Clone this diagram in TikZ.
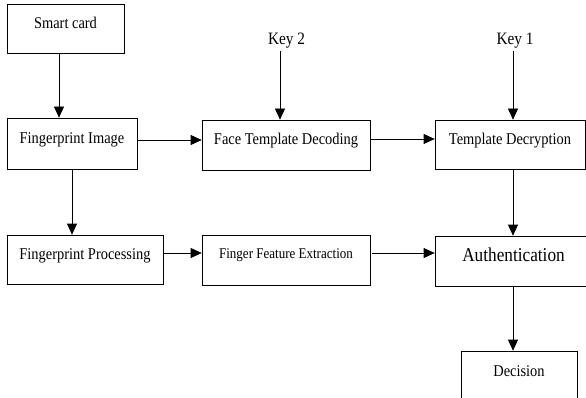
\documentclass[tikz,border=0pt]{standalone}
\usepackage{fontspec}
\setmainfont{Liberation Serif}[FakeStretch=0.88]
\usetikzlibrary{arrows.meta}
\tikzset{
  box/.style={draw=black, line width=0.7pt, rectangle, inner sep=0pt,
    font=\fontsize{16.4}{18}\selectfont, text height=10pt, text depth=10pt},
  keytxt/.style={inner sep=2pt, font=\fontsize{17.4}{19}\selectfont},
  arr/.style={draw=black, line width=0.7pt, -{Triangle[length=11pt,width=10pt]}}
}
\begin{document}
\begin{tikzpicture}[x=1pt,y=-1pt]
\useasboundingbox (0,0) rectangle (586,398);
\node[box, minimum width=117pt, minimum height=49pt] (sc) at (65.5,28.5) {Smart card};
\node[box, minimum width=130pt, minimum height=51pt] (fi) at (72,143.5) {Fingerprint Image};
\node[box, minimum width=168pt, minimum height=50pt] (ft) at (286,145) {Face Template Decoding};
\node[box, minimum width=150pt, minimum height=49pt] (td) at (510,144.5) {Template Decryption};
\node[box, minimum width=156pt, minimum height=49pt] (fp) at (85,259.5) {Fingerprint Processing};
\node[box, minimum width=168pt, minimum height=50pt, font=\fontsize{14.8}{16}\selectfont, text depth=13pt] (fe) at (286,260) {Finger Feature Extraction};
\node[box, minimum width=157pt, minimum height=50pt, font=\fontsize{19.6}{21}\selectfont, text height=11pt, text depth=11pt] (au) at (513.5,261) {Authentication};
\node[box, minimum width=116pt, minimum height=50pt] (dc) at (519,376) {Decision};
\node[keytxt] (k2) at (286.5,41) {Key 2};
\node[keytxt] (k1) at (515,41) {Key 1};
\coordinate (c1) at ([xshift=-6.5pt]sc.south);
\draw[arr] (c1) -- (c1 |- fi.north);
\draw[arr] (fi.south) -- (fi.south |- fp.north);
\coordinate (c2) at ([yshift=3.5pt]fi.east);
\draw[arr] (c2) -- (c2 -| ft.west);
\coordinate (c3) at ([yshift=6pt]ft.east);
\draw[arr] (c3) -- (c3 -| td.west);
\coordinate (c4) at ([xshift=-6.5pt]k2.south);
\draw[arr] (c4) -- (c4 |- ft.north);
\coordinate (c5) at ([xshift=-2pt]k1.south);
\draw[arr] (c5) -- (c5 |- td.north);
\coordinate (c6) at ([xshift=3pt]td.south);
\draw[arr] (c6) -- (c6 |- au.north);
\coordinate (c7) at ([yshift=6.5pt]fp.east);
\draw[arr] (c7) -- (c7 -| fe.west);
\coordinate (c8) at ([xshift=2pt,yshift=7pt]fe.east);
\draw[arr] (c8) -- (c8 -| au.west);
\coordinate (c9) at ([xshift=-0.5pt]au.south);
\draw[arr] (c9) -- (c9 |- dc.north);
\end{tikzpicture}
\end{document}
